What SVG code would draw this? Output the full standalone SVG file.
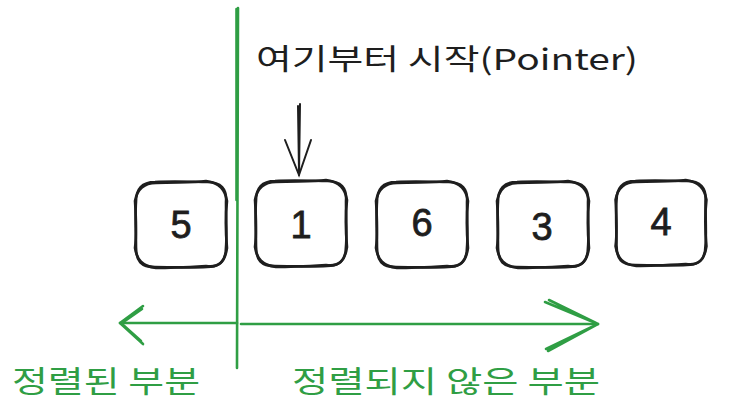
<svg xmlns="http://www.w3.org/2000/svg" width="734" height="415" viewBox="0 0 734 415">
<defs>
<style>
.box{fill:none;stroke:#1e1e1e;stroke-width:2.6;stroke-linecap:round;stroke-linejoin:round}
.num{font-family:"Liberation Sans","Noto Sans",sans-serif;font-size:38px;fill:#1e1e1e;stroke:#1e1e1e;stroke-width:0.8;text-anchor:middle}
.g{fill:none;stroke:#2f9e44;stroke-width:2.6;stroke-linecap:round;stroke-linejoin:round}
.k{stroke:#1e1e1e;fill:none;stroke-width:2;stroke-linecap:round}
.gt{font-family:"Noto Sans CJK KR","Noto Sans",sans-serif;font-size:30px;fill:#2f9e44}
.bt{font-family:"Noto Sans CJK KR","Noto Sans",sans-serif;font-size:29px;fill:#1e1e1e}
</style>
<symbol id="rb" viewBox="0 0 92 87" overflow="visible">
<path class="box" d="M20 1 C40 0 60 1 72 1 C86 1 92 8 91 21 C91 40 92 55 91 66 C91 80 85 86 72 86 C55 87 38 86 20 86 C6 86 1 80 1 66 C1 50 0 35 1 21 C1 8 7 1 20 1 Z"/>
<path class="box" d="M21 2 C42 1 58 2 71 0 C85 2 90 9 92 20 C90 38 91 56 92 67 C90 81 84 87 71 85 C54 86 37 87 21 87 C7 85 2 79 0 67 C2 51 1 36 0 20 C2 9 8 2 21 2"/>
</symbol>
</defs>
<rect width="734" height="415" fill="#ffffff"/>
<g id="node-5"><use href="#rb" x="135" y="181" width="92" height="87"/><text class="num" x="181" y="238">5</text></g>
<g id="node-1"><use href="#rb" x="255" y="180" width="92" height="87"/><text class="num" x="301" y="238">1</text></g>
<g id="node-6"><use href="#rb" x="376" y="181" width="92" height="87"/><text class="num" x="422" y="236">6</text></g>
<g id="node-3"><use href="#rb" x="497" y="181" width="92" height="87"/><text class="num" x="542" y="240">3</text></g>
<g id="node-4"><use href="#rb" x="615" y="180" width="92" height="86"/><text class="num" x="661" y="235">4</text></g>
<g id="label-pointer"><text class="bt" x="256" y="70" textLength="382" lengthAdjust="spacingAndGlyphs">여기부터 시작(Pointer)</text></g>
<g id="label-sorted"><text class="gt" x="12" y="392" textLength="188" lengthAdjust="spacingAndGlyphs">정렬된 부분</text></g>
<g id="label-unsorted"><text class="gt" x="292" y="392" textLength="308" lengthAdjust="spacingAndGlyphs">정렬되지 않은 부분</text></g>
<g id="connectors">
<path class="g" d="M238 8 L237 368"/>
<path class="g" d="M236.5 9 L236.5 200" stroke-width="1.2"/>
<path class="k" d="M300 104 L299 175 M298 106 L299 172"/>
<path class="k" d="M285 140 L299 175 L311 140"/>
<path class="g" d="M237 323 L120 323"/>
<path class="g" d="M120 323 L143 306 M120 323 L143 344 M122 323 L142 309 M122 324 L141 341" stroke-width="2"/>
<path class="g" d="M241 324 L598 324"/>
<path class="g" d="M598 324 L545 302 M598 324 L546 349 M596 323 L549 300 M596 325 L548 351" stroke-width="2"/>
</g>
</svg>
